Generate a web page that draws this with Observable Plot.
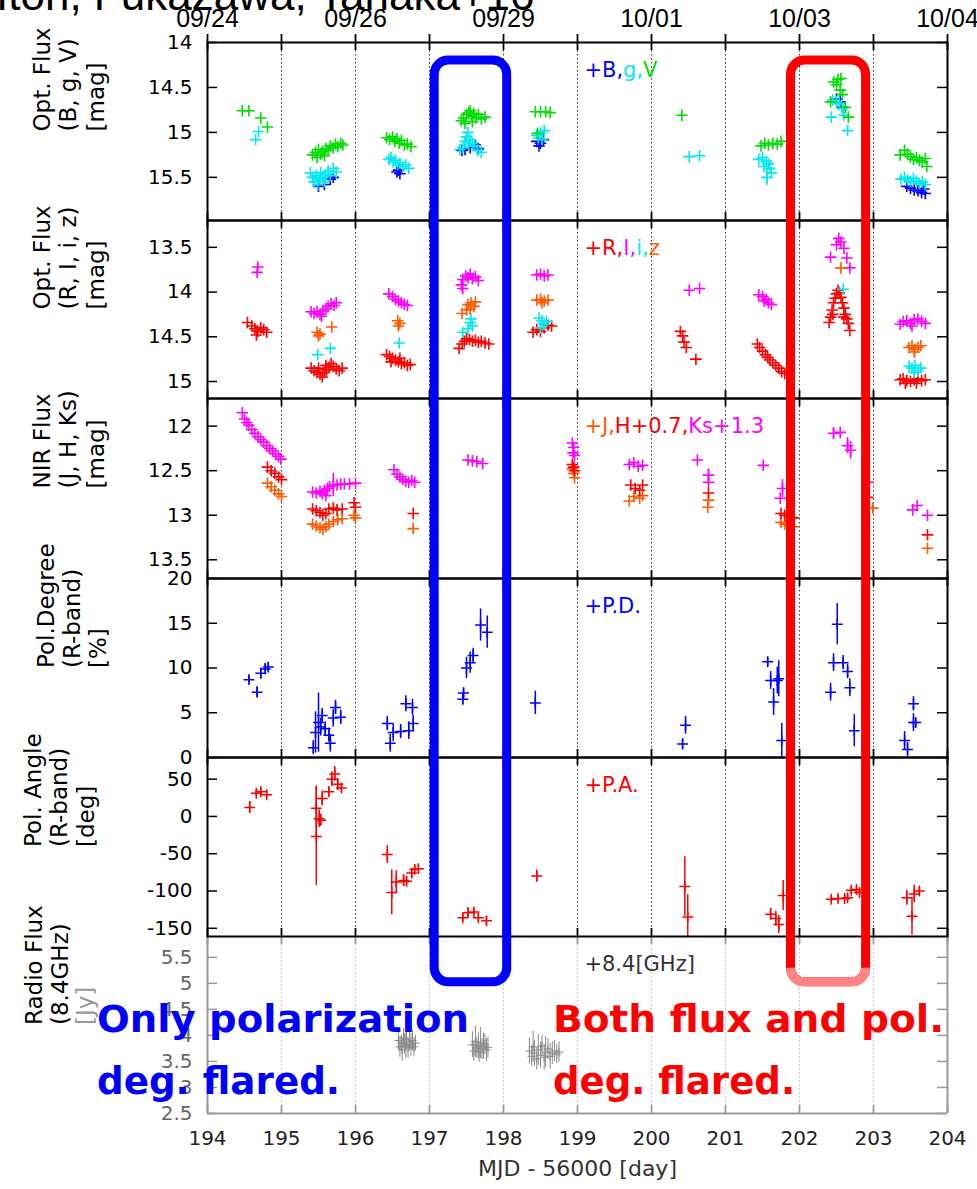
<!DOCTYPE html>
<html><head><meta charset="utf-8">
<script src="https://cdn.jsdelivr.net/npm/d3@7"></script>
<script src="https://cdn.jsdelivr.net/npm/@observablehq/plot@0.6"></script>
<style>
body{margin:0;background:#fff;}
#fig{position:relative;width:977px;height:1189px;overflow:hidden;background:#fff;}
#fig svg{position:absolute;left:0;}
</style></head><body><div id="fig"></div>
<script>
// ---------- axis / tick labels ----------
const dayTicks = [194,195,196,197,198,199,200,201,202,203,204];
const gridDays = [195,196,197,198,199,200,201,202,203];
const dateTicks = [194,196,198,200,202,204];
const dateLabels = ["09/24","09/26","09/29","10/01","10/03","10/04"];
const yTicks1 = [14,14.5,15,15.5];
const yTicks2 = [13.5,14,14.5,15];
const yTicks3 = [12,12.5,13,13.5];
const yTicks4 = [0,5,10,15,20];
const yTicks5 = [50,0,-50,-100,-150];
const yTicks6 = [2.5,3,3.5,4,4.5,5,5.5];

// ---------- Panel 1: B, g, V [mag]  ([MJD-56000, mag]) ----------
const bandB = [[195.50,15.60],[195.58,15.58],[195.66,15.52],[195.70,15.50],[196.56,15.44],[196.60,15.46],[196.58,15.42],
 [197.44,15.20],[197.48,15.19],[197.55,15.17],[197.62,15.14],[197.66,15.18],[198.45,15.10],[198.50,15.12],[198.54,15.08],[198.48,15.15],
 [202.50,14.63],[202.55,14.66],[202.58,14.72],[203.45,15.60],[203.50,15.62],[203.55,15.64],[203.60,15.65],[203.65,15.67],[203.70,15.68],[203.68,15.63]];
const bandG = [[194.69,14.99],[194.65,15.08],
 [195.39,15.45],[195.42,15.50],[195.44,15.55],[195.47,15.48],[195.49,15.58],[195.51,15.52],[195.53,15.45],[195.56,15.50],[195.58,15.55],[195.60,15.47],[195.63,15.43],[195.66,15.48],[195.70,15.40],[195.74,15.44],
 [196.45,15.30],[196.48,15.28],[196.51,15.33],[196.54,15.31],[196.57,15.36],[196.60,15.34],[196.64,15.38],[196.68,15.36],[196.72,15.40],
 [197.41,15.19],[197.45,15.17],[197.48,15.10],[197.50,15.05],[197.52,15.00],[197.55,15.08],[197.58,15.12],[197.61,15.15],[197.65,15.20],[197.70,15.22],[197.53,15.14],
 [198.45,15.03],[198.50,15.00],[198.55,14.98],[198.52,15.08],[198.47,15.06],
 [200.51,15.27],[200.65,15.26],
 [201.45,15.30],[201.50,15.28],[201.55,15.32],[201.58,15.35],[201.60,15.40],[201.62,15.45],[201.56,15.50,0.09],[201.52,15.38],
 [202.45,14.64],[202.50,14.66],[202.54,14.68],[202.43,14.83],[202.60,14.81],[202.65,14.98],[202.58,14.74],
 [203.37,15.52],[203.42,15.50],[203.46,15.53],[203.50,15.55],[203.54,15.51],[203.58,15.54],[203.62,15.57],[203.66,15.55],[203.70,15.58]];
const bandV = [[194.47,14.76],[194.56,14.76],[194.72,14.84],[194.81,14.94],
 [195.42,15.25],[195.46,15.22],[195.48,15.28],[195.50,15.19],[195.53,15.24],[195.56,15.21],[195.58,15.26],[195.60,15.18],[195.63,15.20],[195.66,15.15],[195.70,15.17],[195.73,15.13],[195.76,15.16],[195.80,15.12],[195.83,15.14],
 [196.42,15.06],[196.46,15.08],[196.50,15.05],[196.53,15.10],[196.56,15.07],[196.59,15.12],[196.62,15.09],[196.66,15.14],[196.70,15.13],[196.75,15.16],
 [197.43,14.87],[197.46,14.84],[197.50,14.80],[197.53,14.78],[197.55,14.76],[197.57,14.82],[197.60,14.79],[197.63,14.84],[197.66,14.80],[197.70,14.85],[197.75,14.83],[197.48,14.90],[197.58,14.88],
 [198.43,14.77],[198.50,14.77],[198.57,14.77],[198.63,14.78],[198.46,15.01],
 [200.41,14.81],
 [201.48,15.15],[201.53,15.12],[201.58,15.14],[201.64,15.12],[201.70,15.13],[201.75,15.10],
 [202.46,14.44],[202.52,14.41],[202.56,14.40],[202.42,14.66],[202.55,14.53],[202.58,14.58],[202.62,14.72],[202.66,14.83],[202.50,14.47],
 [203.36,15.25],[203.42,15.20],[203.46,15.24],[203.50,15.27],[203.54,15.30],[203.58,15.28],[203.62,15.31],[203.66,15.33],[203.70,15.29],[203.72,15.38]];

// ---------- Panel 2: R, I, i, z [mag] ----------
const bandR = [[194.54,14.34],[194.60,14.38],[194.64,14.41],[194.68,14.44],[194.72,14.40],[194.76,14.42],[194.80,14.45],[194.66,14.48],
 [195.40,14.85],[195.44,14.88],[195.48,14.90],[195.52,14.92],[195.55,14.95],[195.58,14.90],[195.61,14.87],[195.64,14.84],[195.67,14.80],[195.70,14.83],[195.74,14.86],[195.78,14.88],[195.82,14.85],[195.50,14.85],[195.60,14.82],
 [196.42,14.70],[196.46,14.72],[196.50,14.74],[196.54,14.76],[196.58,14.78],[196.62,14.80],[196.66,14.79],[196.70,14.82],[196.74,14.81],[196.48,14.78],[196.60,14.74],
 [197.40,14.63],[197.44,14.58],[197.47,14.55],[197.50,14.52],[197.54,14.53],[197.58,14.55],[197.62,14.54],[197.66,14.56],[197.70,14.55],[197.75,14.57],[197.80,14.58],
 [198.40,14.45],[198.45,14.42],[198.50,14.44],[198.55,14.40],[198.60,14.37],[198.65,14.38],
 [200.39,14.44],[200.42,14.49],[200.44,14.56],[200.47,14.62],[200.60,14.75],
 [201.43,14.58],[201.46,14.62],[201.50,14.66],[201.54,14.70],[201.57,14.73],[201.60,14.76],[201.64,14.79],[201.68,14.82],[201.72,14.85],[201.76,14.89],[201.80,14.91],
 [202.40,14.34],[202.42,14.28],[202.44,14.20],[202.46,14.12],[202.48,14.07],[202.50,14.02],[202.52,13.98],[202.54,14.01],[202.56,14.06],[202.58,14.12],[202.60,14.18],[202.62,14.25],[202.64,14.30],[202.66,14.35],[202.68,14.43],[202.45,14.25],[202.60,14.28],
 [203.36,14.98],[203.40,14.97],[203.45,14.99],[203.50,15.00],[203.55,14.98],[203.60,14.97],[203.65,14.99],[203.70,14.98],[203.43,15.02],[203.58,15.02]];
const bandI = [[194.68,13.72],[194.67,13.78],
 [195.40,14.22],[195.44,14.24],[195.48,14.22],[195.52,14.25],[195.56,14.21],[195.60,14.19],[195.63,14.16],[195.67,14.13],[195.71,14.15],[195.74,14.12],[195.54,14.27],
 [196.45,14.02],[196.50,14.05],[196.54,14.08],[196.58,14.10],[196.62,14.12],[196.66,14.14],[196.70,14.15],
 [197.43,13.92],[197.45,13.86],[197.49,13.82],[197.52,13.84],[197.55,13.80],[197.58,13.85],[197.62,13.83],[197.66,13.87],[197.45,13.96],
 [198.45,13.81],[198.50,13.80],[198.55,13.82],[198.60,13.81],
 [200.51,13.98],[200.65,13.96],
 [201.45,14.03],[201.50,14.05],[201.55,14.08],[201.58,14.12],[201.62,14.14],[201.52,14.10],
 [202.53,13.40],[202.56,13.44],[202.50,13.47],[202.60,13.51],[202.42,13.61],[202.64,13.62],[202.68,13.73],
 [203.36,14.36],[203.40,14.33],[203.45,14.32],[203.50,14.35],[203.55,14.31],[203.60,14.30],[203.65,14.33],[203.70,14.35],[203.52,14.38]];
const bandi = [[195.49,14.70],[195.66,14.63],[196.59,14.57],
 [197.55,14.34],[197.58,14.38],[197.52,14.41],[197.45,14.45],[197.56,14.30],
 [198.48,14.29],[198.52,14.32],[198.55,14.36],[198.50,14.40],[198.58,14.33],
 [202.59,13.97],
 [203.48,14.83],[203.52,14.85],[203.56,14.82],[203.60,14.88],[203.55,14.90],[203.64,14.85]];
const bandz = [[195.48,14.45],[195.52,14.47],[195.50,14.49],[195.68,14.39],
 [196.57,14.32],[196.60,14.35],[196.58,14.38],
 [197.52,14.14],[197.56,14.12],[197.60,14.16],[197.50,14.20],[197.55,14.19],[197.44,14.24],[197.62,14.11],
 [198.45,14.09],[198.50,14.08],[198.55,14.10],[198.60,14.09],[198.52,14.12],
 [202.56,13.73],
 [203.48,14.62],[203.52,14.60],[203.56,14.64],[203.60,14.62],[203.55,14.67],[203.64,14.60]];

// ---------- Panel 3: NIR J, H+0.7, Ks+1.3 [mag] ----------
const nirJ = [[194.81,12.64],[194.86,12.68],[194.91,12.72],[194.96,12.76],[195.00,12.79],
 [195.42,13.10],[195.47,13.12],[195.52,13.14],[195.56,13.16],[195.60,13.13],[195.64,13.10],[195.70,13.07],[195.76,13.05],[195.82,13.04],[195.98,13.00],[196.00,13.03],
 [196.78,13.15],
 [198.93,12.48],[198.95,12.53],[198.96,12.58],
 [199.70,12.84],[199.76,12.79],[199.84,12.81],[199.88,12.78],
 [200.77,12.83],[200.76,12.91],
 [201.75,13.08],[201.80,13.10],[201.86,13.12],[201.92,13.13],
 [202.99,12.92],
 [203.73,13.37]];
const nirH = [[194.81,12.46],[194.86,12.50],[194.91,12.53],[194.96,12.57],[195.00,12.60],
 [195.42,12.93],[195.47,12.95],[195.52,12.97],[195.56,13.00],[195.60,12.98],[195.64,12.93],[195.70,12.92],[195.75,12.94],[195.82,12.93],[195.98,12.86],[196.00,12.91],
 [196.78,12.98],
 [198.93,12.43],[198.95,12.46],[198.96,12.50],
 [199.72,12.66],[199.78,12.70],[199.84,12.72],[199.88,12.66],
 [200.77,12.75],
 [201.75,12.98],[201.80,13.00],[201.86,13.02],[201.92,13.03],
 [202.92,12.80],
 [203.73,13.22]];
const nirKs = [[194.47,11.85],[194.50,11.92],[194.53,11.96],[194.56,11.99],[194.60,12.04],[194.64,12.08],[194.68,12.12],[194.72,12.15],[194.76,12.18],[194.80,12.22],[194.84,12.25],[194.88,12.28],[194.92,12.31],[194.96,12.34],[194.99,12.37],
 [195.42,12.74],[195.47,12.75],[195.52,12.73],[195.55,12.76],[195.58,12.72],[195.62,12.70],[195.65,12.68],[195.70,12.66,0.13],[195.75,12.66],[195.80,12.65],[195.85,12.65],[195.92,12.65],[196.00,12.64],[195.60,12.78],
 [196.52,12.49],[196.56,12.54],[196.60,12.57],[196.64,12.60],[196.68,12.62],[196.72,12.63],[196.76,12.61],[196.80,12.63],
 [197.52,12.38],[197.58,12.39],[197.64,12.40],[197.72,12.42],
 [198.93,12.19],[198.95,12.24],[198.94,12.30],[198.96,12.33],
 [199.70,12.43],[199.76,12.41],[199.82,12.45],[199.88,12.44],
 [200.62,12.38],[200.77,12.55,0.07],[200.77,12.63],
 [201.51,12.44],[201.77,12.70,0.1],[201.74,12.81],
 [202.46,12.08,0.06],[202.55,12.07],[202.65,12.22,0.09],[202.69,12.27,0.1],[202.93,12.63,0.1],
 [203.53,12.94],[203.59,12.89],[203.73,13.00]];

// ---------- Panel 4: polarization degree [%]  ([day, PD, err]) ----------
const polDeg = [[194.56,8.7,0.5],[194.67,7.3,0.6],[194.72,9.4,0.6],[194.78,9.9,0.6],[194.82,10.1,0.5],
 [195.43,1.1,0.8],[195.46,2.8,2.3],[195.50,3.9,3.3],[195.53,3.4,1.0],[195.55,4.7,0.8],[195.59,3.2,0.8],[195.64,2.5,0.8],[195.66,1.6,1.0],[195.70,4.4,1.0],[195.73,5.6,0.8],[195.80,4.5,0.8],
 [196.43,3.8,0.8],[196.47,1.6,1.0],[196.51,2.8,1.0],[196.61,2.9,0.8],[196.68,6.0,0.9],[196.72,3.0,1.0],[196.77,5.6,0.9],[196.78,3.8,0.9],
 [197.45,6.5,0.6],[197.46,7.2,0.6],[197.50,10.0,1.2],[197.55,10.6,1.2],[197.59,11.4,0.8],[197.69,14.8,1.8],[197.78,14.0,1.8],
 [198.43,6.1,1.3],
 [200.46,3.6,1.0],[200.42,1.5,0.6],
 [201.57,10.7,0.5],[201.61,8.6,1.0],[201.70,8.6,1.5],[201.65,6.2,1.5],[201.72,8.8,2.0],[201.76,1.9,1.9],
 [202.51,14.9,2.3],[202.46,10.6,1.0],[202.59,10.6,0.8],[202.65,9.6,0.8],[202.42,7.3,1.0],[202.68,7.8,1.0],[202.74,3.0,1.8],
 [203.54,6.0,0.8],[203.54,3.9,1.0],[203.57,3.9,0.5],[203.42,1.9,1.0],[203.46,0.9,0.8]];

// ---------- Panel 5: polarization angle [deg]  ([day, PA, err]) ----------
const polAng = [[194.57,12,8],[194.66,31,5],[194.72,33,5],[194.80,29,5],
 [195.47,-27,66],[195.47,11,30],[195.51,-3,12],[195.53,-5,8],[195.55,24,10],[195.64,33,6],[195.68,50,10],[195.72,57,10],[195.81,38,6],[195.76,43,8],
 [196.43,-51,12],[196.49,-102,30],[196.55,-88,15],[196.65,-86,8],[196.69,-87,6],[196.76,-76,6],[196.80,-71,6],[196.85,-70,5],
 [197.45,-136,5],[197.52,-129,6],[197.60,-128,5],[197.66,-136,5],[197.77,-140,6],
 [198.45,-80,8],
 [200.45,-94,40],[200.49,-135,30],
 [201.61,-131,8],[201.68,-137,10],[201.72,-145,12],[201.78,-106,20],
 [202.43,-111,4],[202.52,-110,4],[202.61,-110,4],[202.65,-109,4],[202.70,-99,5],[202.77,-98,4],[202.81,-102,3],
 [203.45,-109,10],[203.52,-134,25],[203.55,-104,12],[203.62,-100,5]];

// ---------- Panel 6: radio flux 8.4 GHz [Jy]  ([day, Jy, err]) ----------
const radio = [[196.58,3.90,0.18],[196.60,3.78,0.2],[196.62,3.86,0.15],[196.63,3.72,0.22],[196.65,3.95,0.18],[196.66,3.84,0.2],[196.68,3.80,0.25],[196.69,3.92,0.15],[196.71,3.76,0.2],[196.73,3.88,0.18],[196.75,3.82,0.22],[196.77,3.90,0.2],[196.79,3.78,0.18],[196.81,3.85,0.15],
 [197.58,3.82,0.25],[197.60,3.70,0.2],[197.62,3.88,0.3],[197.64,3.76,0.2],[197.66,3.80,0.25],[197.67,3.68,0.2],[197.69,3.85,0.3],[197.71,3.74,0.2],[197.73,3.79,0.25],[197.75,3.83,0.2],[197.77,3.72,0.22],[197.79,3.77,0.2],
 [198.35,3.70,0.25],[198.38,3.60,0.2],[198.40,3.78,0.3],[198.42,3.66,0.25],[198.45,3.55,0.22],[198.47,3.72,0.3],[198.50,3.62,0.25],[198.52,3.80,0.2],[198.55,3.58,0.25],[198.57,3.68,0.3],[198.60,3.74,0.2],[198.63,3.60,0.25],[198.66,3.66,0.22],[198.69,3.70,0.2],[198.72,3.64,0.18],[198.75,3.68,0.2]];

// ---------- colours ----------
const C = {B:"#0000ff", g:"#00e8f0", V:"#00dd00", R:"#ff0000", I:"#ff00ff", i:"#00e8f0", z:"#ff5a00",
           J:"#ff5a00", H:"#ff0000", Ks:"#ff00ff", PD:"#0000ff", PA:"#ff0000", radio:"#8a8a8a"};

// ---------- layout ----------
const W = 977, ML = 207, MR = 30, PW = W - ML - MR;
const FONT = "DejaVu Sans";
const fig = document.getElementById("fig");

function series(data, color, r = 3.8, sw = 1.6) {
  const withErr = data.filter(d => d.length > 2);
  return [
    Plot.ruleX(withErr, {x: d => d[0], y1: d => d[1] - d[2], y2: d => d[1] + d[2], stroke: color, strokeWidth: sw, clip: true}),
    Plot.dot(data, {x: d => d[0], y: d => d[1], symbol: "plus", r, stroke: color, fill: "none", strokeWidth: sw, clip: true})
  ];
}

const panels = [
  {top: 42, h: 178, mt: 42, domain: [14, 15.98], reverse: true, yTicks: yTicks1,
   labels: ["Opt. Flux", "(B, g, V)", "[mag]"], labelX: [42, 68, 96],
   marks: [...series(bandB, C.B), ...series(bandG, C.g), ...series(bandV, C.V)],
   legend: [["+B,", C.B], ["g,", C.g], ["V", C.V]], first: true},
  {top: 220, h: 178, domain: [13.2, 15.19], reverse: true, yTicks: yTicks2,
   labels: ["Opt. Flux", "(R, I, i, z)", "[mag]"], labelX: [42, 68, 96],
   marks: [...series(bandR, C.R), ...series(bandI, C.I), ...series(bandi, C.i), ...series(bandz, C.z)],
   legend: [["+R,", C.R], ["I,", C.I], ["i,", C.i], ["z", C.z]]},
  {top: 398, h: 180, domain: [11.69, 13.71], reverse: true, yTicks: yTicks3,
   labels: ["NIR Flux", "(J, H, Ks)", "[mag]"], labelX: [42, 68, 96],
   marks: [...series(nirJ, C.J), ...series(nirH, C.H), ...series(nirKs, C.Ks)],
   legend: [["+J,", C.J], ["H+0.7,", C.H], ["Ks+1.3", C.Ks]]},
  {top: 578, h: 179, domain: [0, 20], yTicks: yTicks4,
   labels: ["Pol.Degree", "(R-band)", "[%]"], labelX: [46, 72, 98],
   marks: [...series(polDeg, C.PD, 3.6, 1.5)],
   legend: [["+P.D.", C.PD]]},
  {top: 757, h: 179, domain: [-161, 79], yTicks: yTicks5,
   labels: ["Pol. Angle", "(R-band)", "[deg]"], labelX: [33, 59, 86],
   marks: [...series(polAng, C.PA, 3.6, 1.5)],
   legend: [["+P.A.", C.PA]]},
  {top: 936, h: 177, mb: 76, domain: [2.5, 5.9], yTicks: yTicks6,
   labels: ["Radio Flux", "(8.4GHz)", "[Jy]"], labelX: [34, 60, 85], labelColors: ["#000", "#000", "#999"],
   marks: [...series(radio, C.radio, 2.8, 1)],
   legend: [["+8.4[GHz]", "#333"]], gray: true, last: true}
];

panels.forEach(p => {
  const mt = p.mt ?? 8, mb = p.mb ?? 8;
  const axisC = p.gray ? "#999" : "#000";
  const gridC = p.gray ? "#aaa" : "#000";
  const labC = p.gray ? "#666" : "#000";
  const marks = [
    Plot.ruleX(gridDays, {x: d => d, stroke: gridC, strokeWidth: 0.8, strokeDasharray: "1.5,2.5"}),
    ...p.marks,
    Plot.tickY(p.yTicks, {y: d => d, insetRight: PW - 10, stroke: axisC, strokeWidth: 1.5}),
    Plot.tickY(p.yTicks, {y: d => d, insetLeft: PW - 10, stroke: axisC, strokeWidth: 1.5}),
    Plot.tickX(dayTicks, {x: d => d, insetTop: p.first ? -8 : 0, insetBottom: p.h - 8, stroke: p.first ? "#000" : axisC, strokeWidth: 1.8}),
    Plot.tickX(dayTicks, {x: d => d, insetTop: p.h - 8, stroke: axisC, strokeWidth: 1.8}),
    Plot.axisY({ticks: p.yTicks, tickSize: 0, tickPadding: 15, tickFormat: d => String(d), fontSize: 20, fill: labC, label: null}),
    p.gray ? Plot.ruleX([194, 204], {stroke: "#999", strokeWidth: 2}) : Plot.frame({stroke: "#000", strokeWidth: 2}),
    p.gray ? Plot.ruleY([2.5], {stroke: "#999", strokeWidth: 2}) : null,
    ...p.labels.map((t, i) => Plot.text([t], {text: d => d, frameAnchor: "left", dx: p.labelX[i] - ML, rotate: -90,
        fontSize: 23, fontFamily: FONT, fill: p.labelColors ? p.labelColors[i] : "#000"}))
  ];
  if (p.first) {
    marks.push(Plot.axisX({anchor: "top", ticks: dateTicks, tickSize: 0, tickPadding: 16,
      tickFormat: d => dateLabels[dateTicks.indexOf(d)], fontSize: 25, fontFamily: "Liberation Sans", label: null}));
  }
  if (p.last) {
    marks.push(Plot.axisX({anchor: "bottom", ticks: dayTicks, tickSize: 0, tickPadding: 17,
      tickFormat: d => String(d), fontSize: 20, fill: "#222", label: null}));
    marks.push(Plot.text(["MJD - 56000 [day]"], {text: d => d, frameAnchor: "bottom", dy: 62, fontSize: 22, fontFamily: FONT, fill: "#333"}));
  }
  const plot = Plot.plot({
    width: W, height: p.h + mt + mb,
    marginTop: mt, marginBottom: mb, marginLeft: ML, marginRight: MR,
    x: (p.first || p.last) ? {domain: [194, 204]} : {domain: [194, 204], axis: null},
    y: {domain: p.domain, reverse: !!p.reverse},
    style: {background: "transparent", overflow: "visible", fontFamily: FONT},
    marks: marks.filter(Boolean)
  });
  plot.style.top = (p.top - mt) + "px";
  plot.style.left = "0px";
  p.plot = plot; p.svgTop = p.top - mt;
});
// lower panels first so upper frames overlay the shared borders
[...panels].reverse().forEach(p => fig.appendChild(p.plot));

// legends (HTML text)
panels.forEach(p => {
  const xs = p.plot.scale("x");
  const lg = document.createElement("div");
  lg.style.cssText = `position:absolute;left:${xs.apply(199.1)}px;top:${p.top + 28}px;transform:translateY(-50%);font-family:'${FONT}';font-size:21px;line-height:1;white-space:nowrap;`;
  p.legend.forEach(([t, c]) => { const s = document.createElement("span"); s.textContent = t; s.style.color = c; lg.appendChild(s); });
  fig.appendChild(lg);
});

// ---------- annotation overlay ----------
const xS = panels[0].plot.scale("x");
const yTopS = panels[0].plot.scale("y");
const yBotS = panels[5].plot.scale("y");
const yTop = v => panels[0].svgTop + yTopS.apply(v);
const yBot = v => panels[5].svgTop + yBotS.apply(v);
const boxes = [
  {x1: 197.07, x2: 198.05, top: 14.2, bottom: 5.02, color: "#0000ff"},
  {x1: 201.885, x2: 202.9, top: 14.2, bottom: 5.02, color: "#ff0000", fade: "#ff8585"}
];
const ov = d3.create("svg").attr("width", W).attr("height", 1189)
  .style("position", "absolute").style("top", "0px").style("left", "0px").style("overflow", "hidden");
ov.append("text").attr("x", -4).attr("y", 10).attr("font-family", "Liberation Sans").attr("font-size", 44)
  .attr("fill", "#000").text("Itoh, Fukazawa, Tanaka+16");
ov.append("clipPath").attr("id", "fadeclip").append("rect")
  .attr("x", 0).attr("y", yBot(5.29)).attr("width", W).attr("height", 1189);
boxes.forEach(b => {
  const x = xS.apply(b.x1), w = xS.apply(b.x2) - x, y = yTop(b.top), h = yBot(b.bottom) - y;
  ov.append("rect").attr("x", x).attr("y", y).attr("width", w).attr("height", h).attr("rx", 14)
    .attr("fill", "none").attr("stroke", b.color).attr("stroke-width", 9);
  if (b.fade) {
    ov.append("rect").attr("x", x).attr("y", y).attr("width", w).attr("height", h).attr("rx", 14)
      .attr("fill", "none").attr("stroke", b.fade).attr("stroke-width", 9).attr("clip-path", "url(#fadeclip)");
  }
});
const notes = [
  {t: "Only polarization", x: 97, y: 1032, len: 372, c: "#0000ff"},
  {t: "deg. flared.", x: 97, y: 1094, len: 243, c: "#0000ff"},
  {t: "Both flux and pol.", x: 553, y: 1032, len: 391, c: "#ff0000"},
  {t: "deg. flared.", x: 553, y: 1094, len: 242, c: "#ff0000"}
];
notes.forEach(n => {
  ov.append("text").attr("x", n.x).attr("y", n.y).attr("font-family", FONT).attr("font-weight", "bold")
    .attr("font-size", 37).attr("fill", n.c).attr("textLength", n.len).attr("lengthAdjust", "spacingAndGlyphs").text(n.t);
});
fig.appendChild(ov.node());
</script></body></html>
